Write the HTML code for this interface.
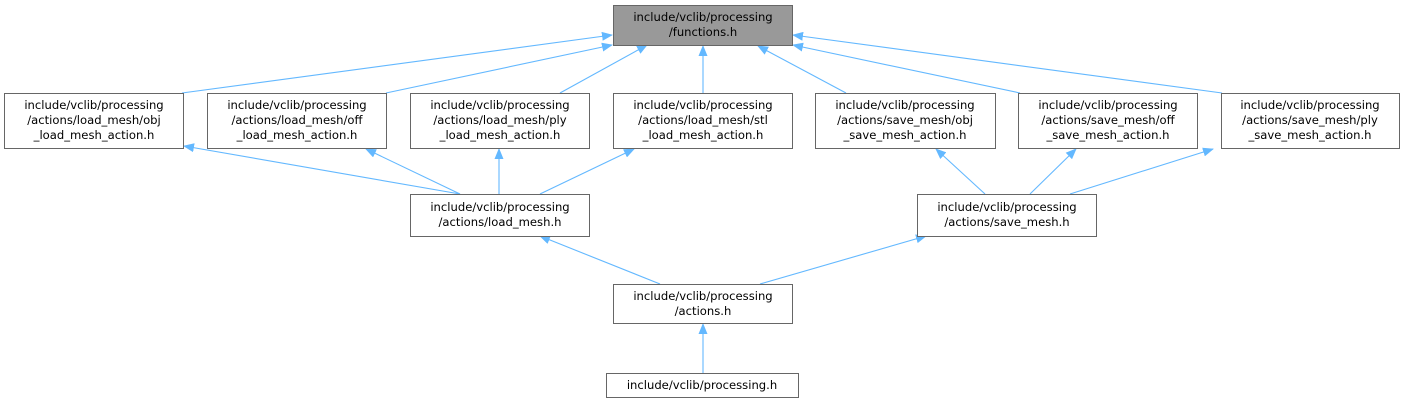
<!DOCTYPE html>
<html><head><meta charset="utf-8"><style>
body{margin:0;background:#fff;width:1405px;height:403px;overflow:hidden}
svg text{font-family:"DejaVu Sans","Liberation Sans",sans-serif;font-size:11.6px;fill:#000}
</style></head><body>
<svg width="1405" height="403" viewBox="0 0 1405 403" xmlns="http://www.w3.org/2000/svg">
<defs><marker id="a" markerWidth="11" markerHeight="9" refX="10" refY="4.5" orient="auto" markerUnits="userSpaceOnUse"><path d="M0,0 L11,4.5 L0,9 z" fill="#63b8ff"/></marker></defs>
<g stroke="#63b8ff" stroke-width="1.1" fill="none" marker-end="url(#a)">
<line x1="182" y1="93" x2="612" y2="35"/>
<line x1="386" y1="93" x2="612" y2="45"/>
<line x1="560" y1="93" x2="647" y2="45"/>
<line x1="703" y1="93" x2="703" y2="46"/>
<line x1="846" y1="93" x2="758" y2="46"/>
<line x1="1020" y1="93" x2="793" y2="45"/>
<line x1="1222" y1="93" x2="793" y2="35"/>
<line x1="460" y1="194" x2="184" y2="146"/>
<line x1="460" y1="194" x2="366" y2="149"/>
<line x1="499" y1="194" x2="499" y2="149"/>
<line x1="540" y1="194" x2="634" y2="149"/>
<line x1="985" y1="194" x2="936" y2="149"/>
<line x1="1030" y1="194" x2="1076" y2="149"/>
<line x1="1070" y1="194" x2="1213" y2="149"/>
<line x1="660" y1="284" x2="540" y2="236"/>
<line x1="760" y1="284" x2="926" y2="236"/>
<line x1="703" y1="373" x2="703" y2="324"/>
</g>
<g stroke="#666" stroke-width="1" fill="#fff">
<rect x="613.5" y="5.5" width="179" height="40" fill="#999"/>
<rect x="4.5" y="93.5" width="179" height="55"/>
<rect x="207.5" y="93.5" width="179" height="55"/>
<rect x="410.5" y="93.5" width="179" height="55"/>
<rect x="613.5" y="93.5" width="179" height="55"/>
<rect x="815.5" y="93.5" width="180" height="55"/>
<rect x="1018.5" y="93.5" width="179" height="55"/>
<rect x="1221.5" y="93.5" width="178" height="55"/>
<rect x="410.5" y="194.5" width="179" height="42"/>
<rect x="917.5" y="194.5" width="179" height="42"/>
<rect x="613.5" y="284.5" width="179" height="39"/>
<rect x="606.5" y="373.5" width="192" height="24"/>
</g>
<g text-anchor="middle">
<text x="703" y="21">include/vclib/processing</text><text x="703" y="36">/functions.h</text>
<text x="94" y="109">include/vclib/processing</text><text x="94" y="124">/actions/load_mesh/obj</text><text x="94" y="139">_load_mesh_action.h</text>
<text x="297" y="109">include/vclib/processing</text><text x="297" y="124">/actions/load_mesh/off</text><text x="297" y="139">_load_mesh_action.h</text>
<text x="500" y="109">include/vclib/processing</text><text x="500" y="124">/actions/load_mesh/ply</text><text x="500" y="139">_load_mesh_action.h</text>
<text x="703" y="109">include/vclib/processing</text><text x="703" y="124">/actions/load_mesh/stl</text><text x="703" y="139">_load_mesh_action.h</text>
<text x="905" y="109">include/vclib/processing</text><text x="905" y="124">/actions/save_mesh/obj</text><text x="905" y="139">_save_mesh_action.h</text>
<text x="1108" y="109">include/vclib/processing</text><text x="1108" y="124">/actions/save_mesh/off</text><text x="1108" y="139">_save_mesh_action.h</text>
<text x="1310" y="109">include/vclib/processing</text><text x="1310" y="124">/actions/save_mesh/ply</text><text x="1310" y="139">_save_mesh_action.h</text>
<text x="500" y="211">include/vclib/processing</text><text x="500" y="226">/actions/load_mesh.h</text>
<text x="1007" y="211">include/vclib/processing</text><text x="1007" y="226">/actions/save_mesh.h</text>
<text x="703" y="300">include/vclib/processing</text><text x="703" y="315">/actions.h</text>
<text x="702" y="389">include/vclib/processing.h</text>
</g>
</svg>
</body></html>
